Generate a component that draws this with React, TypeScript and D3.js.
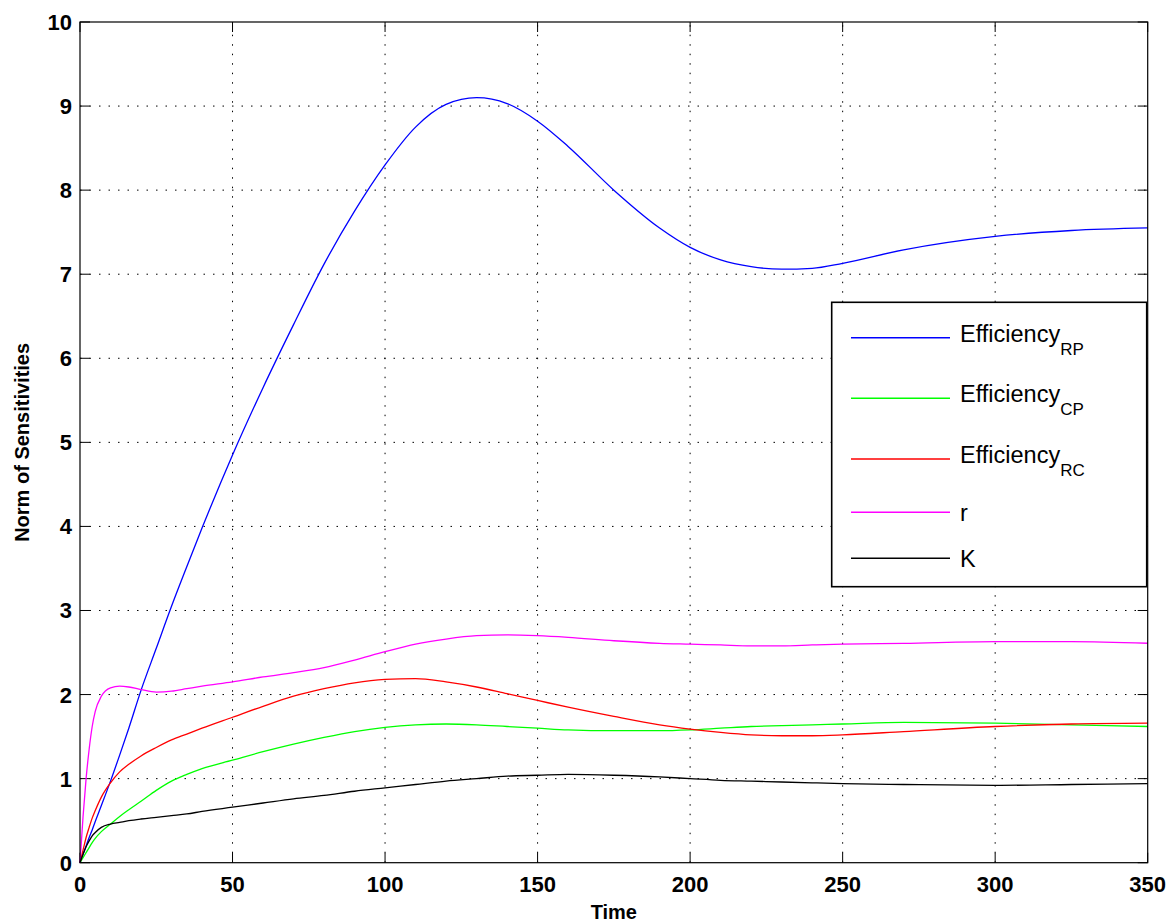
import React from "react";
import * as d3 from "d3";

const T = [0,1,2,3,4,5,7,10,13,16,20,25,30,35,40,50,60,70,80,90,100,110,120,130,140,150,160,175,190,200,210,220,230,240,250,270,300,325,350];

const effRP = [0,0.1,0.2,0.3,0.39,0.49,0.68,0.97,1.28,1.6,2.05,2.55,3.05,3.52,3.98,4.85,5.65,6.4,7.12,7.75,8.3,8.75,9.02,9.1,9.03,8.82,8.52,8.0,7.55,7.32,7.17,7.09,7.06,7.07,7.13,7.29,7.45,7.52,7.55];
const effCP = [0,0.06,0.12,0.18,0.24,0.29,0.37,0.46,0.55,0.63,0.73,0.86,0.97,1.05,1.12,1.22,1.32,1.41,1.49,1.56,1.61,1.64,1.65,1.64,1.62,1.6,1.58,1.57,1.57,1.58,1.6,1.62,1.63,1.64,1.65,1.67,1.66,1.64,1.62];
const effRC = [0,0.15,0.3,0.42,0.53,0.62,0.78,0.95,1.08,1.17,1.27,1.37,1.46,1.53,1.6,1.73,1.86,1.98,2.07,2.14,2.18,2.19,2.15,2.09,2.01,1.93,1.85,1.74,1.64,1.59,1.55,1.52,1.51,1.51,1.52,1.56,1.62,1.65,1.66];
const rVals = [0,0.55,1.0,1.35,1.62,1.8,1.98,2.08,2.1,2.09,2.06,2.03,2.04,2.07,2.1,2.15,2.21,2.26,2.32,2.41,2.51,2.6,2.66,2.7,2.71,2.7,2.68,2.64,2.61,2.6,2.59,2.58,2.58,2.59,2.6,2.61,2.63,2.63,2.61];
const kVals = [0,0.1,0.19,0.26,0.32,0.36,0.42,0.46,0.48,0.5,0.52,0.54,0.56,0.58,0.61,0.66,0.71,0.76,0.8,0.85,0.89,0.93,0.97,1.0,1.03,1.04,1.05,1.04,1.02,1.0,0.98,0.97,0.96,0.95,0.94,0.93,0.92,0.93,0.94];

const xTicks = [0,50,100,150,200,250,300,350];
const yTicks = [0,1,2,3,4,5,6,7,8,9,10];

const seriesNames = ["Efficiency", "Efficiency", "Efficiency", "r", "K"];
const seriesSubs = ["RP", "CP", "RC", "", ""];
const seriesColors = ["#0000ff", "#00ff00", "#ff0000", "#ff00ff", "#000000"];
const seriesData = [effRP, effCP, effRC, rVals, kVals];

export default function App() {
  const W = 1174, H = 924;
  const L = 80, R = 1147.7, TOP = 22, B = 862.7;
  const x = d3.scaleLinear().domain([0, 350]).range([L, R]);
  const y = d3.scaleLinear().domain([0, 10]).range([B, TOP]);
  const line = d3.line<number>().x((_, i) => x(T[i])).y((d) => y(d)).curve(d3.curveMonotoneX);
  const font = "'Liberation Sans', Arial, Helvetica, sans-serif";
  const legendRows = [337.7, 398.3, 459, 512.3, 558.3];
  const tickLen = 10;

  return (
    <svg width={W} height={H} style={{ position: "absolute", left: 0, top: 0, background: "#fff" }} fontFamily={font}>
      <rect x={0} y={0} width={W} height={H} fill="#fff" />
      {xTicks.slice(1, -1).map((t) => (
        <line key={"gx" + t} x1={x(t)} x2={x(t)} y1={B} y2={TOP} stroke="#000" strokeWidth={1} strokeDasharray="1.5,8" />
      ))}
      {yTicks.slice(1, -1).map((t) => (
        <line key={"gy" + t} x1={L} x2={R} y1={y(t)} y2={y(t)} stroke="#000" strokeWidth={1} strokeDasharray="1.5,8" />
      ))}
      {xTicks.map((t) => (
        <g key={"tx" + t}>
          <line x1={x(t)} x2={x(t)} y1={B} y2={B - tickLen} stroke="#000" />
          <line x1={x(t)} x2={x(t)} y1={TOP} y2={TOP + tickLen} stroke="#000" />
          <text x={x(t)} y={892} textAnchor="middle" fontSize={22} fontWeight="bold">{t}</text>
        </g>
      ))}
      {yTicks.map((t) => (
        <g key={"ty" + t}>
          <line x1={L} x2={L + tickLen} y1={y(t)} y2={y(t)} stroke="#000" />
          <line x1={R} x2={R - tickLen} y1={y(t)} y2={y(t)} stroke="#000" />
          <text x={72} y={y(t) + 8} textAnchor="end" fontSize={22} fontWeight="bold">{t}</text>
        </g>
      ))}
      {seriesData.map((s, i) => (
        <path key={"s" + i} d={line(s) || ""} fill="none" stroke={seriesColors[i]} strokeWidth={1.3} />
      ))}
      <rect x={L} y={TOP} width={R - L} height={B - TOP} fill="none" stroke="#000" strokeWidth={1.2} />
      <rect x={831.7} y={302.3} width={315} height={284.4} fill="#fff" stroke="#000" strokeWidth={1.6} />
      {seriesNames.map((n, i) => (
        <g key={"lg" + i}>
          <line x1={851} x2={950} y1={legendRows[i]} y2={legendRows[i]} stroke={seriesColors[i]} strokeWidth={1.5} />
          <text x={960} y={legendRows[i] + (seriesSubs[i] ? 4 : 9)} fontSize={23.5}>
            {n}
            {seriesSubs[i] ? <tspan fontSize={17} dy={13}>{seriesSubs[i]}</tspan> : null}
          </text>
        </g>
      ))}
      <text x={(L + R) / 2} y={919} textAnchor="middle" fontSize={20} fontWeight="bold">Time</text>
      <text transform={`translate(29, ${(TOP + B) / 2}) rotate(-90)`} textAnchor="middle" fontSize={20} fontWeight="bold">Norm of Sensitivities</text>
    </svg>
  );
}
